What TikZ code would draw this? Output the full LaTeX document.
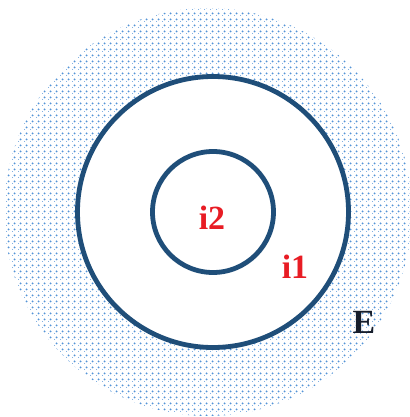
\documentclass[tikz,border=0pt]{standalone}
\usepackage{fontspec}
\setmainfont{Liberation Serif}
\usetikzlibrary{patterns.meta}
\definecolor{ringblue}{RGB}{31,78,121}
\definecolor{dotblue}{RGB}{84,148,215}
\definecolor{labred}{RGB}{232,28,36}
\definecolor{labdark}{RGB}{22,30,44}
\tikzdeclarepattern{name=bluedots,type=uncolored,
  bounding box={(0,0) and (6bp,6bp)},tile size={(6bp,6bp)},
  code={\fill (0,0) circle (1.2bp); \fill (3bp,3bp) circle (1.2bp);}}
\begin{document}
\begin{tikzpicture}[x=1bp,y=1bp,
  ring/.style={circle,draw=ringblue,line width=4.8bp,inner sep=0pt},
  lab/.style={font=\fontsize{34}{36}\selectfont\bfseries}]
\useasboundingbox (0,0) rectangle (410,417);
\clip (0,0) rectangle (410,417);
% dotted region E
\fill[pattern={bluedots},pattern color=dotblue] (208,205) circle (204);
\node[ring,fill=white,minimum size=271bp] (outer) at (213,205) {};
\node[ring,minimum size=121bp] (inner) at (213,205) {};
\node[lab,text=labred] (i2) at (212,199) {i2};
\node[lab,text=labred] (i1) at (295,150) {i1};
\node[lab,text=labdark] (E) at (364,95) {E};
\end{tikzpicture}
\end{document}
